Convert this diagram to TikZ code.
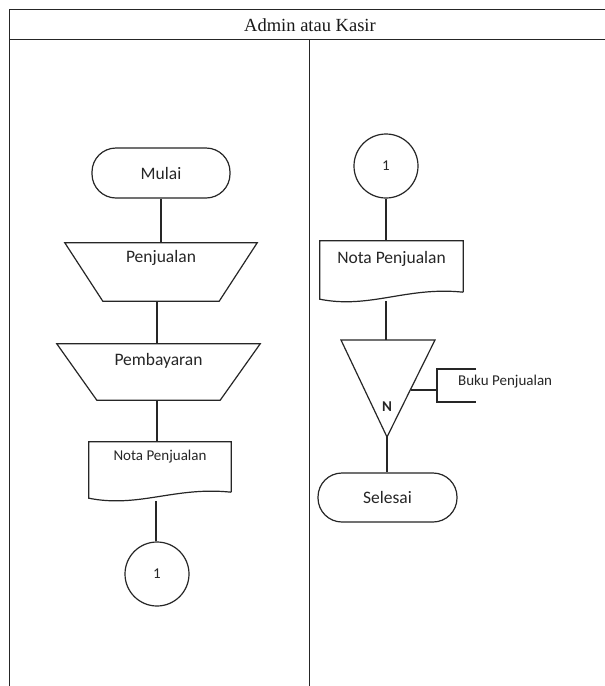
\documentclass[tikz,border=0pt]{standalone}
\usepackage{fontspec}
\setmainfont{Liberation Serif}
\newfontfamily\calfont{Carlito}
\begin{document}
\begin{tikzpicture}[x=1pt,y=-1pt,
  ln/.style={draw=black!85, line width=1.2pt},
  term/.style={ln, rectangle, rounded corners=24pt, minimum width=138pt, minimum height=50pt, inner sep=0pt, font=\calfont\fontsize{17.5}{20}\selectfont, text=black!85},
  blank/.style={draw=none, rectangle, inner sep=0pt},
  lbl/.style={inner sep=0pt, font=\calfont\fontsize{17.5}{20}\selectfont, text=black!85},
  slbl/.style={inner sep=0pt, font=\calfont\fontsize{15}{17}\selectfont, text=black!85},
  conn/.style={ln, circle, minimum size=64pt, inner sep=0pt, font=\calfont\fontsize{15}{17}\selectfont, text=black!85}
]
\useasboundingbox (0,0) rectangle (605,686);
\fill[white] (0,0) rectangle (605,686);
% frame
\draw[ln] (9.5,686) -- (9.5,9.5) -- (605,9.5);
\draw[ln] (9.5,39.5) -- (605,39.5);
\draw[ln] (309.5,39.5) -- (309.5,686);
\node[inner sep=0pt, font=\fontsize{18.5}{20}\selectfont, text=black!90] (hdr) at (310,25) {Admin atau Kasir};

% left column
\node[term] (mulai) at (161,173) {Mulai};

\node[blank, minimum width=192pt, minimum height=58pt] (pj) at (161,272) {};
\draw[ln] (pj.north west) -- (pj.north east) -- ([xshift=-38pt]pj.south east) -- ([xshift=38pt]pj.south west) -- cycle;
\node[lbl] (pjt) at ([yshift=14pt]pj.center) {Penjualan};

\node[blank, minimum width=203pt, minimum height=56pt] (pb) at (158.5,372) {};
\draw[ln] (pb.north west) -- (pb.north east) -- ([xshift=-40pt]pb.south east) -- ([xshift=40pt]pb.south west) -- cycle;
\node[lbl] (pbt) at ([yshift=11pt]pb.center) {Pembayaran};

\node[blank, minimum width=142pt, minimum height=50pt] (d1) at (160,467) {};
\draw[ln] (d1.south east) -- (d1.north east) -- (d1.north west) -- ([yshift=-6pt]d1.south west)
  .. controls ([xshift=50pt,yshift=-16pt]d1.south west) and ([xshift=-56pt,yshift=6pt]d1.south east) .. (d1.south east);
\node[slbl] (d1t) at ([yshift=10pt]d1.center) {Nota Penjualan};

\node[conn] (c1) at (157,574) {1};

\coordinate (d1b) at (156,501);
\draw[ln] (mulai.south) -- (mulai.south |- pj.north);
\draw[ln] (157,301) coordinate (pjb) -- (pjb |- pb.north);
\draw[ln] (157,400) coordinate (pbb) -- (pbb |- d1.north);
\draw[ln] (d1b) -- (d1b |- c1.north);

% right column
\node[conn] (c2) at (386,166) {1};

\node[blank, minimum width=143pt, minimum height=51pt] (d2) at (391.5,266.5) {};
\draw[ln] (d2.south east) -- (d2.north east) -- (d2.north west) -- ([yshift=-7pt]d2.south west)
  .. controls ([xshift=50pt,yshift=-17pt]d2.south west) and ([xshift=-56pt,yshift=6pt]d2.south east) .. (d2.south east);
\node[lbl] (d2t) at ([yshift=7.5pt]d2.center) {Nota Penjualan};

\coordinate (tl) at (341,340);
\coordinate (tr) at (435,340);
\coordinate (tap) at (387,437);
\coordinate (ttop) at (386,340);
\draw[ln] (tl) -- (tr) -- (tap) -- cycle;
\node[inner sep=0pt, font=\calfont\bfseries\fontsize{15}{17}\selectfont, text=black!85] (nn) at (387,407) {N};

\coordinate (tside) at (410.5,390);
\coordinate (bm) at (437,390);
\coordinate (bt) at (437,369);
\coordinate (bb) at (437,402);
\coordinate (bte) at (476,369);
\coordinate (bbe) at (476,402);
\draw[ln] (tside) -- (bm);
\draw[ln] (bte) -- (bt) -- (bb) -- (bbe);
\node[slbl, anchor=west] (buku) at (458,382) {Buku Penjualan};

\node[term, minimum width=139pt, minimum height=49pt] (selesai) at (387.5,497.5) {Selesai};

\coordinate (d2b) at (386,301);
\draw[ln] (c2.south) -- (c2.south |- d2.north);
\draw[ln] (d2b) -- (ttop);
\draw[ln] (tap) -- (tap |- selesai.north);
\end{tikzpicture}
\end{document}
